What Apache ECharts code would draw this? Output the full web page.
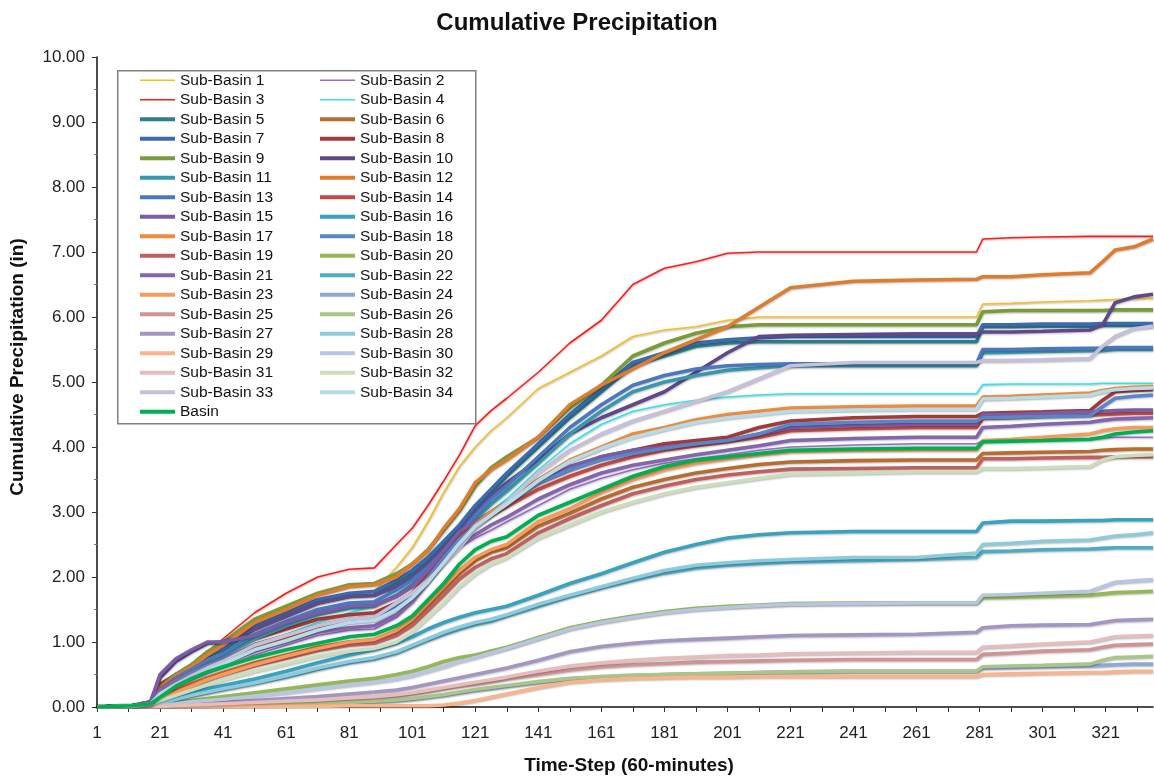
<!DOCTYPE html>
<html>
<head>
<meta charset="utf-8">
<title>Cumulative Precipitation</title>
<script src="https://cdn.jsdelivr.net/npm/echarts@6/dist/echarts.min.js"></script>
<style>
  html, body { margin: 0; padding: 0; background: #ffffff; }
  #chart { width: 1154px; height: 777px; }
</style>
</head>
<body>
<div id="chart"></div>
<script>
// Hourly time-step categories (60-minute steps, 14 days)
const timeSteps = Array.from({ length: 336 }, (_, i) => String(i + 1));

// Time-steps at which cumulative depths (in) were recorded for every basin
const sampleSteps = [1, 12, 18, 21, 26, 31, 36, 41, 51, 61, 71, 81, 89, 96, 101, 106, 111, 116, 121, 126, 131, 141, 151, 161, 171, 181, 191, 201, 211, 221, 241, 261, 280, 282, 291, 301, 316, 320, 324, 330, 336];

const sb1  = [0, 0.02, 0.06, 0.25, 0.4, 0.55, 0.7, 0.85, 1.2, 1.4, 1.6, 1.72, 1.78, 2.15, 2.45, 2.85, 3.3, 3.7, 4.0, 4.25, 4.45, 4.9, 5.15, 5.4, 5.7, 5.8, 5.85, 5.95, 6.0, 6.0, 6.0, 6.0, 6.0, 6.2, 6.21, 6.23, 6.25, 6.26, 6.27, 6.28, 6.29];
const sb2  = [0, 0.01, 0.04, 0.2, 0.32, 0.42, 0.52, 0.6, 0.8, 0.95, 1.1, 1.18, 1.2, 1.38, 1.6, 1.9, 2.2, 2.45, 2.6, 2.72, 2.85, 3.1, 3.35, 3.52, 3.65, 3.75, 3.82, 3.88, 3.95, 4.0, 4.03, 4.05, 4.05, 4.1, 4.11, 4.12, 4.13, 4.14, 4.15, 4.15, 4.15];
const sb3  = [0, 0.02, 0.07, 0.35, 0.45, 0.62, 0.85, 1.05, 1.45, 1.75, 2.0, 2.12, 2.14, 2.5, 2.75, 3.1, 3.48, 3.88, 4.33, 4.56, 4.75, 5.15, 5.6, 5.95, 6.5, 6.75, 6.85, 6.98, 7.0, 7.0, 7.0, 7.0, 7.0, 7.2, 7.22, 7.23, 7.24, 7.24, 7.24, 7.24, 7.24];
const sb4  = [0, 0.01, 0.05, 0.22, 0.38, 0.5, 0.62, 0.72, 0.95, 1.12, 1.3, 1.45, 1.55, 1.88, 2.05, 2.25, 2.45, 2.62, 2.82, 3.02, 3.2, 3.65, 4.05, 4.35, 4.55, 4.65, 4.72, 4.77, 4.8, 4.82, 4.82, 4.82, 4.82, 4.96, 4.97, 4.97, 4.97, 4.98, 4.98, 4.98, 4.98];
const sb5  = [0, 0.02, 0.06, 0.28, 0.48, 0.62, 0.78, 0.88, 1.2, 1.4, 1.6, 1.7, 1.72, 1.9, 2.05, 2.25, 2.5, 2.75, 3.05, 3.3, 3.55, 4.0, 4.45, 4.85, 5.25, 5.4, 5.55, 5.6, 5.62, 5.62, 5.62, 5.62, 5.62, 5.85, 5.85, 5.86, 5.86, 5.87, 5.87, 5.87, 5.87];
const sb6  = [0, 0.01, 0.04, 0.15, 0.26, 0.36, 0.45, 0.53, 0.68, 0.8, 0.92, 1.0, 1.03, 1.15, 1.32, 1.55, 1.8, 2.05, 2.25, 2.38, 2.45, 2.78, 2.98, 3.2, 3.38, 3.5, 3.6, 3.67, 3.73, 3.77, 3.79, 3.8, 3.8, 3.9, 3.91, 3.92, 3.93, 3.95, 3.96, 3.97, 3.97];
const sb7  = [0, 0.02, 0.06, 0.3, 0.5, 0.65, 0.8, 0.9, 1.25, 1.45, 1.65, 1.75, 1.78, 1.95, 2.1, 2.3, 2.55, 2.8, 3.1, 3.35, 3.6, 4.05, 4.5, 4.9, 5.3, 5.45, 5.6, 5.65, 5.68, 5.7, 5.7, 5.7, 5.7, 5.88, 5.88, 5.89, 5.89, 5.9, 5.9, 5.9, 5.9];
const sb8  = [0, 0.01, 0.06, 0.35, 0.5, 0.6, 0.72, 0.8, 1.05, 1.2, 1.35, 1.42, 1.45, 1.6, 1.75, 2.0, 2.3, 2.6, 2.8, 2.98, 3.15, 3.45, 3.65, 3.85, 3.95, 4.05, 4.1, 4.15, 4.3, 4.4, 4.45, 4.47, 4.47, 4.52, 4.53, 4.54, 4.56, 4.72, 4.85, 4.87, 4.88];
const sb9  = [0, 0.02, 0.06, 0.3, 0.5, 0.65, 0.85, 1.0, 1.35, 1.55, 1.75, 1.88, 1.9, 2.05, 2.2, 2.42, 2.72, 3.02, 3.4, 3.68, 3.85, 4.15, 4.6, 4.95, 5.4, 5.6, 5.75, 5.85, 5.88, 5.88, 5.88, 5.88, 5.88, 6.08, 6.1, 6.1, 6.1, 6.1, 6.11, 6.11, 6.11];
const sb10 = [0, 0.02, 0.08, 0.45, 0.7, 0.85, 0.98, 1.0, 1.2, 1.4, 1.6, 1.7, 1.72, 1.85, 2.0, 2.2, 2.45, 2.7, 3.0, 3.25, 3.45, 3.8, 4.2, 4.45, 4.65, 4.85, 5.15, 5.45, 5.7, 5.72, 5.73, 5.74, 5.74, 5.77, 5.77, 5.78, 5.8, 5.88, 6.22, 6.31, 6.35];
const sb11 = [0, 0.02, 0.05, 0.25, 0.42, 0.55, 0.68, 0.78, 1.05, 1.25, 1.42, 1.52, 1.55, 1.72, 1.88, 2.08, 2.32, 2.58, 2.88, 3.12, 3.32, 3.75, 4.2, 4.55, 4.85, 5.0, 5.1, 5.18, 5.22, 5.25, 5.25, 5.25, 5.25, 5.45, 5.46, 5.47, 5.48, 5.48, 5.5, 5.5, 5.5];
const sb12 = [0, 0.02, 0.06, 0.28, 0.48, 0.62, 0.8, 0.95, 1.3, 1.5, 1.72, 1.85, 1.88, 2.0, 2.2, 2.4, 2.75, 3.05, 3.45, 3.65, 3.8, 4.15, 4.65, 4.95, 5.2, 5.45, 5.65, 5.85, 6.15, 6.45, 6.55, 6.57, 6.58, 6.62, 6.62, 6.65, 6.68, 6.85, 7.03, 7.08, 7.2];
const sb13 = [0, 0.02, 0.06, 0.27, 0.45, 0.58, 0.72, 0.82, 1.12, 1.32, 1.5, 1.6, 1.62, 1.8, 1.95, 2.15, 2.4, 2.65, 2.95, 3.2, 3.4, 3.85, 4.3, 4.65, 4.95, 5.1, 5.2, 5.25, 5.27, 5.28, 5.28, 5.28, 5.28, 5.5, 5.5, 5.51, 5.52, 5.52, 5.53, 5.53, 5.53];
const sb14 = [0, 0.01, 0.05, 0.28, 0.42, 0.53, 0.64, 0.73, 0.96, 1.1, 1.25, 1.33, 1.36, 1.55, 1.75, 2.05, 2.4, 2.65, 2.8, 2.95, 3.08, 3.35, 3.55, 3.72, 3.85, 3.95, 4.02, 4.08, 4.15, 4.25, 4.28, 4.3, 4.3, 4.44, 4.45, 4.47, 4.49, 4.5, 4.51, 4.52, 4.52];
const sb15 = [0, 0.02, 0.08, 0.5, 0.74, 0.88, 1.0, 1.0, 1.1, 1.3, 1.45, 1.55, 1.57, 1.7, 1.85, 2.1, 2.4, 2.7, 2.85, 3.0, 3.15, 3.45, 3.7, 3.85, 3.95, 4.0, 4.05, 4.1, 4.2, 4.3, 4.33, 4.35, 4.35, 4.5, 4.5, 4.52, 4.54, 4.55, 4.56, 4.57, 4.57];
const sb16 = [0, 0.01, 0.03, 0.08, 0.15, 0.22, 0.28, 0.33, 0.43, 0.55, 0.68, 0.8, 0.88, 0.98, 1.08, 1.2, 1.3, 1.38, 1.45, 1.5, 1.55, 1.72, 1.9, 2.05, 2.22, 2.38, 2.5, 2.6, 2.65, 2.68, 2.7, 2.7, 2.7, 2.83, 2.86, 2.86, 2.87, 2.87, 2.88, 2.88, 2.88];
const sb17 = [0, 0.01, 0.05, 0.22, 0.36, 0.47, 0.58, 0.68, 0.9, 1.05, 1.2, 1.32, 1.35, 1.55, 1.72, 1.95, 2.25, 2.55, 2.8, 3.0, 3.15, 3.5, 3.8, 4.0, 4.2, 4.3, 4.42, 4.5, 4.55, 4.6, 4.62, 4.63, 4.63, 4.77, 4.78, 4.8, 4.83, 4.87, 4.9, 4.92, 4.93];
const sb18 = [0, 0.01, 0.05, 0.25, 0.4, 0.52, 0.63, 0.72, 0.95, 1.1, 1.25, 1.35, 1.38, 1.55, 1.72, 1.98, 2.3, 2.58, 2.78, 2.95, 3.12, 3.45, 3.65, 3.8, 3.9, 3.98, 4.05, 4.1, 4.2, 4.35, 4.38, 4.4, 4.4, 4.45, 4.46, 4.47, 4.48, 4.62, 4.75, 4.78, 4.8];
const sb19 = [0, 0.01, 0.04, 0.14, 0.24, 0.33, 0.42, 0.5, 0.64, 0.75, 0.87, 0.95, 0.98, 1.1, 1.25, 1.48, 1.72, 1.97, 2.15, 2.28, 2.36, 2.68, 2.9, 3.1, 3.28, 3.4, 3.5, 3.57, 3.62, 3.66, 3.67, 3.68, 3.68, 3.82, 3.82, 3.83, 3.84, 3.84, 3.85, 3.85, 3.85];
const sb20 = [0, 0, 0.01, 0.04, 0.07, 0.1, 0.13, 0.16, 0.22, 0.28, 0.34, 0.4, 0.44, 0.5, 0.55, 0.62, 0.7, 0.76, 0.8, 0.86, 0.92, 1.07, 1.22, 1.32, 1.4, 1.47, 1.52, 1.55, 1.57, 1.59, 1.6, 1.6, 1.6, 1.68, 1.69, 1.7, 1.72, 1.74, 1.76, 1.77, 1.78];
const sb21 = [0, 0.01, 0.05, 0.25, 0.38, 0.48, 0.58, 0.66, 0.86, 1.0, 1.15, 1.22, 1.25, 1.42, 1.62, 1.92, 2.25, 2.5, 2.65, 2.8, 2.92, 3.2, 3.42, 3.6, 3.72, 3.8, 3.88, 3.95, 4.02, 4.1, 4.13, 4.15, 4.15, 4.3, 4.32, 4.35, 4.38, 4.41, 4.43, 4.44, 4.45];
const sb22 = [0, 0.01, 0.02, 0.06, 0.11, 0.17, 0.22, 0.27, 0.36, 0.46, 0.58, 0.68, 0.74, 0.83, 0.93, 1.03, 1.12, 1.2, 1.27, 1.32, 1.4, 1.55, 1.7, 1.83, 1.95, 2.06, 2.14, 2.18, 2.21, 2.23, 2.25, 2.27, 2.3, 2.39, 2.4, 2.42, 2.43, 2.44, 2.45, 2.45, 2.45];
const sb23 = [0, 0.01, 0.04, 0.12, 0.22, 0.32, 0.42, 0.5, 0.65, 0.78, 0.9, 1.0, 1.04, 1.18, 1.35, 1.6, 1.85, 2.1, 2.3, 2.42, 2.5, 2.85, 3.05, 3.3, 3.5, 3.65, 3.75, 3.82, 3.88, 3.93, 3.95, 3.96, 3.96, 4.1, 4.12, 4.15, 4.2, 4.25, 4.28, 4.3, 4.3];
const sb24 = [0, 0, 0, 0, 0, 0.01, 0.01, 0.02, 0.03, 0.04, 0.05, 0.06, 0.08, 0.1, 0.12, 0.15, 0.18, 0.22, 0.26, 0.29, 0.32, 0.38, 0.43, 0.46, 0.48, 0.5, 0.51, 0.52, 0.53, 0.54, 0.55, 0.55, 0.55, 0.6, 0.61, 0.62, 0.63, 0.64, 0.65, 0.66, 0.66];
const sb25 = [0, 0, 0, 0.01, 0.02, 0.03, 0.04, 0.05, 0.06, 0.08, 0.1, 0.12, 0.14, 0.17, 0.2, 0.24, 0.28, 0.32, 0.35, 0.39, 0.43, 0.5, 0.57, 0.62, 0.65, 0.67, 0.69, 0.7, 0.71, 0.72, 0.73, 0.73, 0.73, 0.81, 0.83, 0.86, 0.88, 0.92, 0.95, 0.96, 0.97];
const sb26 = [0, 0, 0, 0, 0.01, 0.01, 0.02, 0.02, 0.03, 0.04, 0.05, 0.07, 0.09, 0.11, 0.13, 0.16, 0.19, 0.23, 0.27, 0.3, 0.33, 0.39, 0.44, 0.47, 0.49, 0.5, 0.51, 0.52, 0.53, 0.54, 0.55, 0.55, 0.55, 0.62, 0.63, 0.64, 0.66, 0.72, 0.76, 0.77, 0.78];
const sb27 = [0, 0, 0.01, 0.02, 0.03, 0.04, 0.06, 0.07, 0.1, 0.13, 0.16, 0.2, 0.23, 0.26, 0.3, 0.35, 0.4, 0.45, 0.5, 0.55, 0.6, 0.72, 0.85, 0.93, 0.98, 1.02, 1.04, 1.06, 1.08, 1.1, 1.11, 1.12, 1.15, 1.22, 1.25, 1.26, 1.27, 1.3, 1.33, 1.34, 1.35];
const sb28 = [0, 0.01, 0.02, 0.06, 0.12, 0.18, 0.23, 0.28, 0.37, 0.48, 0.6, 0.7, 0.76, 0.85, 0.95, 1.05, 1.15, 1.23, 1.3, 1.35, 1.42, 1.58, 1.72, 1.85, 1.98, 2.1, 2.18, 2.22, 2.25, 2.27, 2.3, 2.3, 2.37, 2.5, 2.52, 2.55, 2.57, 2.6, 2.63, 2.65, 2.68];
const sb29 = [0, 0, 0, 0, 0, 0, 0, 0, 0.01, 0.01, 0.01, 0.02, 0.02, 0.02, 0.02, 0.02, 0.03, 0.06, 0.1, 0.15, 0.2, 0.3, 0.38, 0.42, 0.44, 0.45, 0.46, 0.46, 0.47, 0.47, 0.47, 0.47, 0.47, 0.5, 0.51, 0.52, 0.53, 0.53, 0.54, 0.55, 0.55];
const sb30 = [0, 0, 0.01, 0.03, 0.05, 0.08, 0.1, 0.12, 0.17, 0.22, 0.28, 0.34, 0.38, 0.43, 0.48, 0.55, 0.62, 0.7, 0.76, 0.83, 0.9, 1.05, 1.2, 1.3, 1.38, 1.45, 1.5, 1.53, 1.56, 1.58, 1.59, 1.6, 1.6, 1.72, 1.73, 1.75, 1.78, 1.85, 1.92, 1.94, 1.96];
const sb31 = [0, 0, 0, 0.01, 0.02, 0.03, 0.04, 0.05, 0.07, 0.09, 0.11, 0.14, 0.16, 0.19, 0.22, 0.26, 0.3, 0.34, 0.38, 0.42, 0.46, 0.55, 0.63, 0.68, 0.72, 0.75, 0.77, 0.79, 0.8, 0.82, 0.83, 0.84, 0.84, 0.92, 0.94, 0.97, 1.0, 1.04, 1.08, 1.09, 1.1];
const sb32 = [0, 0.01, 0.03, 0.1, 0.18, 0.26, 0.34, 0.42, 0.55, 0.66, 0.78, 0.86, 0.9, 1.0, 1.15, 1.38, 1.6, 1.85, 2.05, 2.2, 2.3, 2.6, 2.8, 3.0, 3.15, 3.28, 3.38, 3.45, 3.52, 3.58, 3.6, 3.62, 3.62, 3.67, 3.67, 3.68, 3.7, 3.8, 3.85, 3.87, 3.88];
const sb33 = [0, 0.01, 0.04, 0.2, 0.35, 0.48, 0.6, 0.7, 0.95, 1.1, 1.25, 1.35, 1.38, 1.6, 1.75, 1.95, 2.2, 2.45, 2.75, 2.95, 3.15, 3.6, 3.95, 4.2, 4.4, 4.55, 4.7, 4.85, 5.05, 5.25, 5.3, 5.3, 5.3, 5.33, 5.33, 5.34, 5.36, 5.55, 5.7, 5.82, 5.86];
const sb34 = [0, 0.01, 0.05, 0.2, 0.34, 0.45, 0.56, 0.66, 0.88, 1.02, 1.18, 1.3, 1.33, 1.5, 1.68, 1.92, 2.22, 2.52, 2.78, 2.95, 3.12, 3.48, 3.78, 3.98, 4.15, 4.27, 4.38, 4.45, 4.5, 4.55, 4.57, 4.58, 4.58, 4.74, 4.75, 4.77, 4.8, 4.85, 4.88, 4.9, 4.91];
const basin = [0, 0.02, 0.05, 0.15, 0.32, 0.44, 0.54, 0.62, 0.76, 0.88, 0.98, 1.08, 1.12, 1.25, 1.4, 1.65, 1.9, 2.2, 2.42, 2.55, 2.62, 2.95, 3.15, 3.35, 3.55, 3.7, 3.8, 3.85, 3.9, 3.95, 3.97, 3.98, 3.98, 4.08, 4.09, 4.1, 4.12, 4.15, 4.2, 4.23, 4.25];

const seriesNames = [
  'Sub-Basin 1', 'Sub-Basin 2', 'Sub-Basin 3', 'Sub-Basin 4', 'Sub-Basin 5', 'Sub-Basin 6',
  'Sub-Basin 7', 'Sub-Basin 8', 'Sub-Basin 9', 'Sub-Basin 10', 'Sub-Basin 11', 'Sub-Basin 12',
  'Sub-Basin 13', 'Sub-Basin 14', 'Sub-Basin 15', 'Sub-Basin 16', 'Sub-Basin 17', 'Sub-Basin 18',
  'Sub-Basin 19', 'Sub-Basin 20', 'Sub-Basin 21', 'Sub-Basin 22', 'Sub-Basin 23', 'Sub-Basin 24',
  'Sub-Basin 25', 'Sub-Basin 26', 'Sub-Basin 27', 'Sub-Basin 28', 'Sub-Basin 29', 'Sub-Basin 30',
  'Sub-Basin 31', 'Sub-Basin 32', 'Sub-Basin 33', 'Sub-Basin 34', 'Basin'
];
const seriesValues = [sb1, sb2, sb3, sb4, sb5, sb6, sb7, sb8, sb9, sb10, sb11, sb12, sb13, sb14, sb15, sb16, sb17,
  sb18, sb19, sb20, sb21, sb22, sb23, sb24, sb25, sb26, sb27, sb28, sb29, sb30, sb31, sb32, sb33, sb34, basin];
const seriesColors = [
  '#F4BF22', '#9C6BC9', '#FF1A1A', '#30E4EC', '#2E7C90', '#B86C2E',
  '#3B6BAE', '#A23A37', '#7A9B39', '#5E4A8B', '#3A97AE', '#DE7C30',
  '#4A78C0', '#BE4B48', '#7B5CA6', '#37A3C0', '#F08A3C', '#5A85C8',
  '#C0605E', '#93B858', '#8366AE', '#4BACC6', '#F79B5B', '#8EA8D8',
  '#D09494', '#A9C58A', '#A496C2', '#8CCADC', '#FAB48C', '#B8C6E2',
  '#E4BDBC', '#CCDDBB', '#C7C0DA', '#B5DCE8', '#00B050'
];
// Sub-Basins 1-4 are drawn with a hairline, the rest with a heavy stroke
const thinSeries = ['Sub-Basin 1', 'Sub-Basin 2', 'Sub-Basin 3', 'Sub-Basin 4'];

const chartTitle = 'Cumulative Precipitation';
const xAxisTitle = 'Time-Step (60-minutes)';
const yAxisTitle = 'Cumulative Precipitation (in)';

const FONT = 'Liberation Sans, Arial, sans-serif';
const thinIcon = 'path://M0,0h35v1.6h-35z';
const thickIcon = 'path://M0,0h35v4h-35z';

const series = seriesNames.map((name, k) => {
  const thin = thinSeries.includes(name);
  return {
    name: name,
    type: 'line',
    symbol: 'none',
    showSymbol: false,
    color: seriesColors[k],
    lineStyle: {
      width: thin ? 1.6 : 3.6,
      color: seriesColors[k],
      shadowColor: 'rgba(0,0,0,0.28)',
      shadowBlur: 2,
      shadowOffsetX: 0.5,
      shadowOffsetY: 1
    },
    emphasis: { disabled: true },
    data: sampleSteps.map((s, i) => [s - 1, seriesValues[k][i]])
  };
});

function legendItems(names) {
  return names.map(n => ({ name: n, icon: thinSeries.includes(n) ? thinIcon : thickIcon }));
}
const leftColumn = seriesNames.filter((n, i) => i % 2 === 0);   // 1, 3, ... 33, Basin
const rightColumn = seriesNames.filter((n, i) => i % 2 === 1);  // 2, 4, ... 34

const legendCommon = {
  orient: 'vertical',
  top: 71.8,
  padding: 0,
  itemWidth: 35,
  itemHeight: 14,
  itemGap: 2.5,
  symbolKeepAspect: true,
  selectedMode: false,
  textStyle: { fontFamily: FONT, fontSize: 15.5, color: '#111', lineHeight: 17 }
};

const chart = echarts.init(document.getElementById('chart'), null, { renderer: 'canvas' });
chart.setOption({
  animation: false,
  backgroundColor: '#ffffff',
  title: {
    text: chartTitle,
    left: 'center',
    top: 6,
    textStyle: { fontFamily: FONT, fontSize: 24, fontWeight: 'bold', color: '#111' }
  },
  graphic: [
    {
      type: 'rect',
      left: 117, top: 70,
      shape: { width: 358, height: 353 },
      style: { fill: '#ffffff', stroke: '#808080', lineWidth: 1.5 },
      z: 5
    },
    {
      type: 'text',
      x: 629, y: 766,
      style: {
        text: xAxisTitle, textAlign: 'center', textVerticalAlign: 'middle',
        font: 'bold 19px ' + FONT, fill: '#111'
      }
    },
    {
      type: 'text',
      x: 18, y: 367,
      rotation: Math.PI / 2,
      style: {
        text: yAxisTitle, textAlign: 'center', textVerticalAlign: 'middle',
        font: 'bold 19px ' + FONT, fill: '#111'
      }
    }
  ],
  legend: [
    Object.assign({}, legendCommon, { left: 140, data: legendItems(leftColumn), z: 10 }),
    Object.assign({}, legendCommon, { left: 320, data: legendItems(rightColumn), z: 10 })
  ],
  grid: { left: 97, right: 1, top: 57, bottom: 70, containLabel: false },
  xAxis: {
    type: 'category',
    data: timeSteps,
    boundaryGap: false,
    axisLine: { lineStyle: { color: '#111', width: 1.5 } },
    axisTick: { show: true, interval: 9, length: 5, inside: false, lineStyle: { color: '#333', width: 1 } },
    axisLabel: { interval: 19, margin: 18, fontFamily: FONT, fontSize: 17, color: '#222' },
    splitLine: { show: false }
  },
  yAxis: {
    type: 'value',
    min: 0,
    max: 10,
    interval: 1,
    axisLine: { show: true, lineStyle: { color: '#111', width: 1.5 } },
    axisTick: { show: true, length: 5, lineStyle: { color: '#333' } },
    minorTick: { show: true, splitNumber: 2, length: 3, lineStyle: { color: '#777' } },
    axisLabel: { margin: 12, fontFamily: FONT, fontSize: 17, color: '#222', formatter: v => v.toFixed(2) },
    splitLine: { show: false }
  },
  series: series
});
</script>
</body>
</html>
